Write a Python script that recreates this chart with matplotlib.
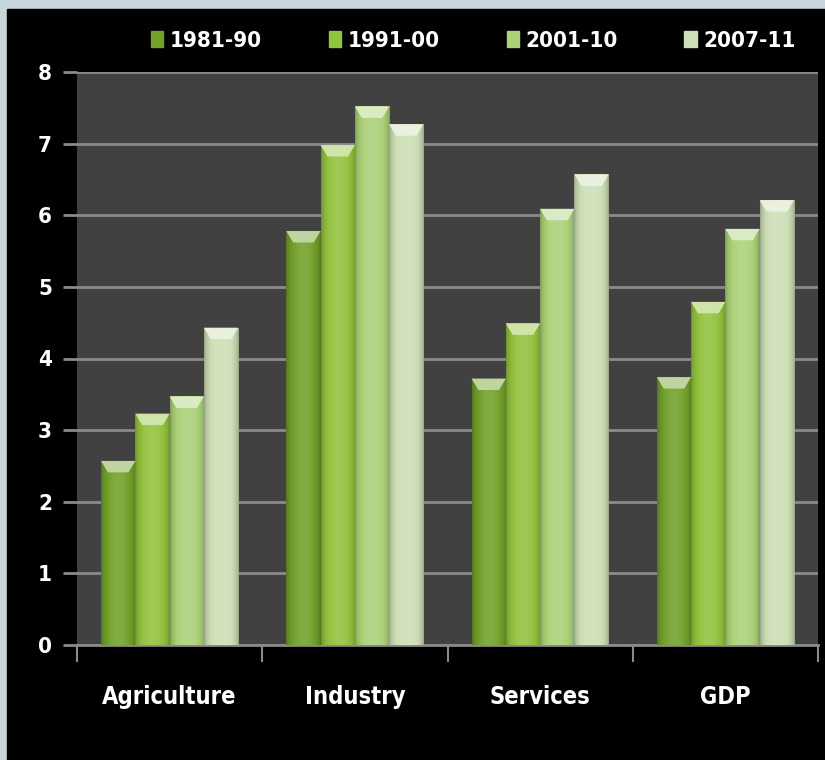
import matplotlib.pyplot as plt
import matplotlib.patches as mpatches
import numpy as np

# data
categories = ['Agriculture', 'Industry', 'Services', 'GDP']
periods = ['1981-90', '1991-00', '2001-10', '2007-11']
v_1981_90 = [2.57, 5.78, 3.72, 3.74]
v_1991_00 = [3.23, 6.98, 4.49, 4.79]
v_2001_10 = [3.47, 7.52, 6.09, 5.81]
v_2007_11 = [4.43, 7.27, 6.57, 6.21]
series = [v_1981_90, v_1991_00, v_2001_10, v_2007_11]
colors = ['#72a02a', '#93c23d', '#acd178', '#cddfb6']

plt.rcParams['font.family'] = ['DejaVu Sans']
plt.rcParams['font.stretch'] = 'condensed'

fig = plt.figure(figsize=(8.25, 7.6), dpi=100)
fig.patch.set_facecolor('#c7d4dc')
# black panel behind the chart
fig.add_artist(mpatches.Rectangle((7/825, 0), 1, 1 - 9/760,
                                  transform=fig.transFigure, color='black', zorder=0))

ax = fig.add_axes([77/825, 1 - 645/760, (818 - 77)/825, (645 - 72)/760])
ax.set_facecolor('#414141')

x = np.arange(len(categories))
w = 0.185
offsets = (np.arange(4) - 1.5) * w


def shade(c, k):
    c = np.array(plt.matplotlib.colors.to_rgb(c))
    return np.clip(c * k, 0, 1) if k < 1 else c + (1 - c) * (k - 1)


for i, (vals, col) in enumerate(zip(series, colors)):
    bars = ax.bar(x + offsets[i], vals, width=w, color=col, label=periods[i],
                  zorder=3, linewidth=0)
    # cylinder-like shading across each bar
    t = np.linspace(0, 1, 64)
    prof = 0.72 + 0.36 * np.sin(np.pi * t) ** 0.5
    img = np.array([shade(col, p) if p <= 1 else shade(col, 1 + (p - 1) * 1.5)
                    for p in prof])[None, :, :]
    for b in bars:
        bx, by, bw, bh = b.get_x(), b.get_y(), b.get_width(), b.get_height()
        im = ax.imshow(img, extent=[bx, bx + bw, by, by + bh], aspect='auto',
                       zorder=4, interpolation='bilinear')
        im.set_clip_path(b)
        # light bevel on top
        top = mpatches.Polygon([[bx, by + bh], [bx + bw, by + bh],
                                [bx + bw * 0.8, by + bh - 0.16],
                                [bx + bw * 0.2, by + bh - 0.16]],
                               closed=True, color=shade(col, 1.55), zorder=5, lw=0)
        ax.add_patch(top)

ax.set_xlim(-0.5, 3.5)
ax.set_ylim(0, 8)
ax.set_yticks(range(9))
ax.yaxis.grid(True, color='#8a8a8a', lw=2)
ax.set_axisbelow(True)
for s in ['top', 'right', 'left']:
    ax.spines[s].set_visible(False)
ax.spines['bottom'].set_color('#8a8a8a')
ax.spines['bottom'].set_linewidth(2)

ax.set_xticks(np.arange(-0.5, 4, 1))
ax.set_xticklabels([])
ax.tick_params(axis='x', colors='#8a8a8a', length=12, width=1.5, direction='out')
ax.tick_params(axis='y', length=10, width=2, color='#8a8a8a', pad=8,
               labelcolor='white', labelsize=16)
for lab in ax.get_yticklabels():
    lab.set_fontweight('bold')

for xi, c in zip(x, categories):
    ax.text(xi, -0.72, c, ha='center', va='center', color='white',
            fontsize=17, fontweight='bold', clip_on=False)

handles = [mpatches.Patch(color=c) for c in colors]
leg = ax.legend(handles, periods, loc='lower center', bbox_to_anchor=(0.535, 1.0),
                ncol=4, frameon=False, fontsize=16, handlelength=0.55, handleheight=0.75,
                columnspacing=3.0, handletextpad=0.3, borderaxespad=0.55)
for lab in leg.get_texts():
    lab.set_color('white')
    lab.set_fontweight('bold')

plt.savefig('out.png', dpi=100, facecolor=fig.get_facecolor())
